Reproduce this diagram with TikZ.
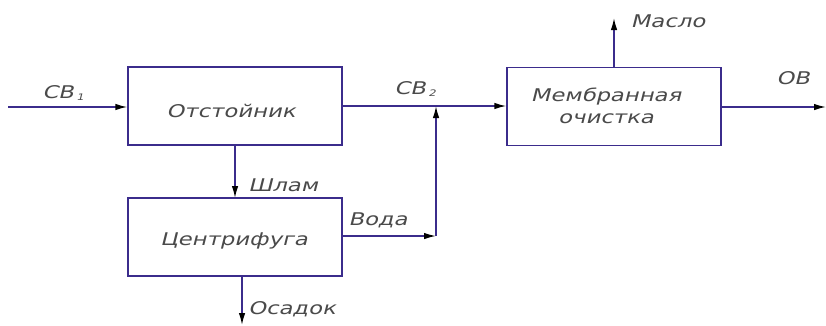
\documentclass[tikz,border=0pt]{standalone}
\usepackage{fontspec}
\newfontfamily\gost[FakeSlant=0.25,FakeStretch=1.3]{DejaVu Sans}
\usetikzlibrary{arrows.meta}
\definecolor{flow}{HTML}{3B2C8C}
\definecolor{ink}{HTML}{4A4A4A}
\tikzset{
  unit/.style={draw=flow, line width=1.4pt, minimum width=214pt, minimum height=78pt, inner sep=0pt},
  stream/.style={draw=flow, line width=1.4pt},
  feed/.style={stream, -{Latex[length=12pt,width=6.5pt,color=black]}},
  lbl/.style={text=ink, font=\gost\fontsize{17.5}{20}\selectfont, inner sep=0pt},
}
\newcommand{\idx}[1]{\kern2.5pt\raisebox{-1.5pt}{\fontsize{9}{9}\selectfont #1}}
\begin{document}
\begin{tikzpicture}[x=1pt,y=-1pt]
  \useasboundingbox (0,0) rectangle (826,325);
  % units
  \node[unit] (settler) at (235,106) {};
  \node[unit] (centr) at (235,237) {};
  \node[unit] (membr) at (614,106.5) {};
  \node[lbl] (tsettler) at (231,111) {Отстойник};
  \node[lbl] (tcentr) at (234,241) {Центрифуга};
  \node[lbl, align=center] (tmembr) at (606,106) {Мембранная\\[2pt]очистка};
  % free ends and junctions
  \coordinate (in) at (8,107);
  \coordinate (out) at (826,107);
  \coordinate (oil) at (614,18);
  \coordinate (sludge) at (242,325);
  \coordinate (j) at (436,236);
  \coordinate (m) at (436,106);
  % streams
  \draw[feed] (in) -- (in -| settler.west);
  \draw[feed] (settler.east |- 0,106) -- (membr.west |- 0,106);
  \draw[feed] (membr.east |- out) -- (out);
  \draw[feed] (membr.north -| oil) -- (oil);
  \draw[feed] (235,145) -- (235,198);
  \draw[feed] (centr.east |- j) -- (j);
  \draw[feed] (j) -- (m);
  \draw[feed] (sludge |- centr.south) -- (sludge);
  % stream labels
  \node[lbl] (lsv1) at (63,93) {СВ\idx{1}};
  \node[lbl] (lsv2) at (415,89) {СВ\idx{2}};
  \node[lbl] (loil) at (668,21) {Масло};
  \node[lbl] (lout) at (793,78) {ОВ};
  \node[lbl] (lsl) at (283,185) {Шлам};
  \node[lbl] (lw) at (378,220) {Вода};
  \node[lbl] (lsed) at (292,309) {Осадок};
\end{tikzpicture}
\end{document}
